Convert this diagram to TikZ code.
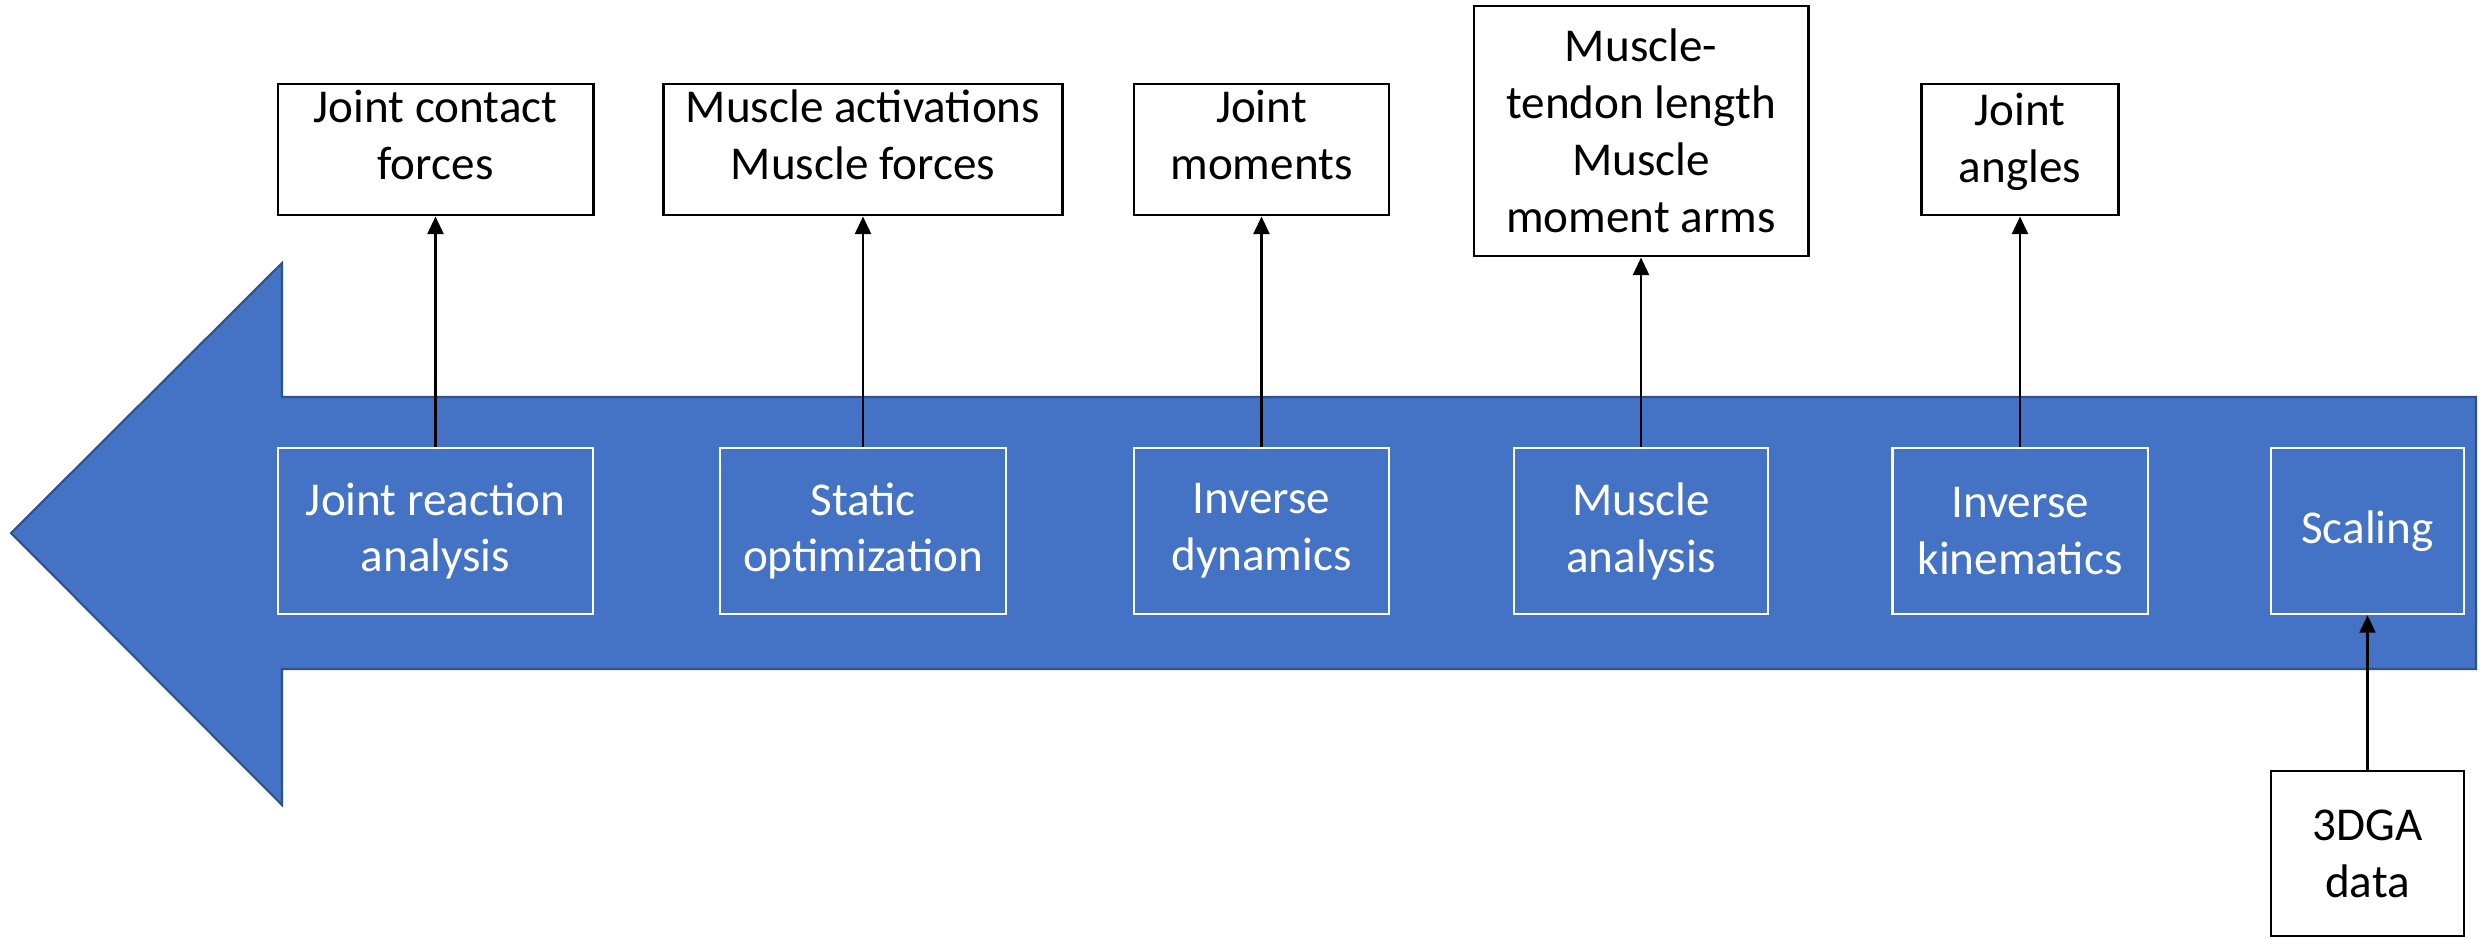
\documentclass[tikz,border=0pt]{standalone}
\usepackage{fontspec}
\setmainfont{Carlito}
\usetikzlibrary{arrows.meta}
\definecolor{flowblue}{HTML}{4472C4}
\definecolor{flowedge}{HTML}{2F528F}
\begin{document}
\begin{tikzpicture}[x=0.01cm, y=-0.01cm,
  outbox/.style={draw, line width=0.8pt, fill=white, align=center, inner sep=0pt, font=\fontsize{13.4}{16.2}\selectfont},
  topbox/.style={outbox, minimum height=1.31cm, text depth=0.3cm},
  stepbox/.style={draw=white, line width=0.6pt, text=white, align=center, inner sep=0pt, minimum height=1.66cm, font=\fontsize{13.4}{16.2}\selectfont},
  flow/.style={-{Triangle[length=5pt,width=4.5pt]}, line width=0.8pt}]
\useasboundingbox (0,0) rectangle (2481,938);
\filldraw[fill=flowblue, draw=flowedge, line width=0.6pt] (2476,397) -- (282,397) -- (282,263) -- (11,533) -- (282,805) -- (282,669) -- (2476,669) -- cycle;
\node[stepbox, minimum width=3.15cm] (jra) at (435.5,531){Joint reaction\\analysis};
\node[stepbox, minimum width=2.86cm] (so) at (863,531){Static\\optimization};
\node[stepbox, minimum width=2.55cm] (id) at (1261.5,531){Inverse\\dynamics};
\node[stepbox, minimum width=2.53cm] (ma) at (1641,531){Muscle\\analysis};
\node[stepbox, minimum width=2.55cm] (ik) at (2020,531){Inverse\\kinematics};
\node[stepbox, minimum width=1.93cm] (scl) at (2367.5,531){Scaling};
\node[topbox, minimum width=3.15cm] (jcf) at (435.5,149.5){Joint contact\\forces};
\node[topbox, minimum width=3.99cm] (maf) at (863,149.5){Muscle activations\\Muscle forces};
\node[topbox, minimum width=2.55cm] (jm) at (1261.5,149.5){Joint\\moments};
\node[outbox, minimum width=3.34cm, minimum height=2.5cm] (mtl) at (1641,131){Muscle-\\tendon length\\Muscle\\moment arms};
\node[topbox, minimum width=1.97cm, text depth=0.24cm] (ja) at (2020,149.5){Joint\\angles};
\node[outbox, minimum width=1.93cm, minimum height=1.65cm] (gait) at (2367.5,853.5){3DGA\\data};
\draw[flow] (jra) -- (jcf);
\draw[flow] (so) -- (maf);
\draw[flow] (id) -- (jm);
\draw[flow] (ma) -- (mtl);
\draw[flow] (ik) -- (ja);
\draw[flow] (gait) -- (scl);
\end{tikzpicture}
\end{document}
